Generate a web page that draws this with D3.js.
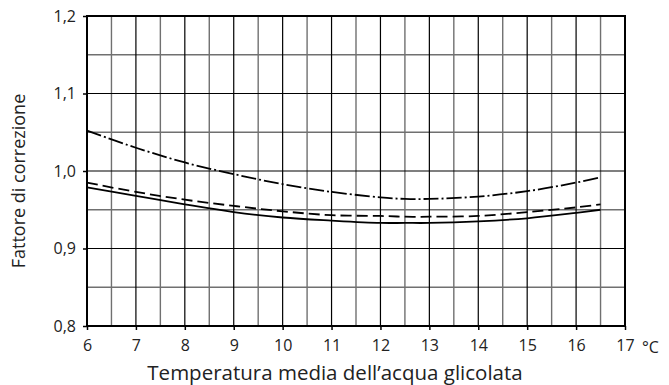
<!DOCTYPE html>
<html>
<head>
<meta charset="utf-8">
<script src="https://cdn.jsdelivr.net/npm/d3@7"></script>
<style>
  body { margin: 0; background: #fff; }
  text { font-family: "Open Sans", sans-serif; fill: #222; }
</style>
</head>
<body>
<div id="chart"></div>
<script>
// temperature (°C) and correction factor per curve
var temps      = [6, 7, 8, 9, 10, 11, 12, 12.5, 13, 14, 15, 16, 16.5];
var dashDot    = [1.052, 1.030, 1.011, 0.996, 0.983, 0.973, 0.966, 0.964, 0.964, 0.967, 0.974, 0.985, 0.992];
var dashed     = [0.985, 0.973, 0.963, 0.955, 0.948, 0.943, 0.942, 0.941, 0.941, 0.942, 0.947, 0.953, 0.957];
var solid      = [0.979, 0.968, 0.957, 0.947, 0.940, 0.936, 0.933, 0.933, 0.933, 0.935, 0.939, 0.946, 0.950];
var xTicks     = [6, 7, 8, 9, 10, 11, 12, 13, 14, 15, 16, 17];
var yTicks     = [0.8, 0.9, 1.0, 1.1, 1.2];
var xLabel     = "Temperatura media dell\u2019acqua glicolata";
var yLabel     = "Fattore di correzione";

var width = 669, height = 385;
var pLeft = 87, pRight = 625, pTop = 16, pBottom = 326;

var svg = d3.select('#chart').append('svg').attr('width', width).attr('height', height);

var x = d3.scaleLinear().domain([6, 17]).range([pLeft, pRight]);
var y = d3.scaleLinear().domain([0.8, 1.2]).range([pBottom, pTop]);

// minor grid (gray)
var halfX = d3.range(6.5, 17, 1);
var halfY = [0.85, 0.95, 1.05, 1.15];
svg.selectAll('.vminor').data(halfX).enter().append('line')
  .attr('x1', d => x(d)).attr('x2', d => x(d)).attr('y1', pTop).attr('y2', pBottom)
  .attr('stroke', '#707070').attr('stroke-width', 1.4);
svg.selectAll('.hminor').data(halfY).enter().append('line')
  .attr('x1', pLeft).attr('x2', pRight).attr('y1', d => y(d)).attr('y2', d => y(d))
  .attr('stroke', '#707070').attr('stroke-width', 1.4);

// major grid (black)
svg.selectAll('.vmajor').data(xTicks.slice(1, -1)).enter().append('line')
  .attr('x1', d => x(d)).attr('x2', d => x(d)).attr('y1', pTop).attr('y2', pBottom)
  .attr('stroke', '#000').attr('stroke-width', 1.2);
svg.selectAll('.hmajor').data(yTicks.slice(1, -1)).enter().append('line')
  .attr('x1', pLeft).attr('x2', pRight).attr('y1', d => y(d)).attr('y2', d => y(d))
  .attr('stroke', '#000').attr('stroke-width', 1.2);

// frame
svg.append('rect').attr('x', pLeft).attr('y', pTop)
  .attr('width', pRight - pLeft).attr('height', pBottom - pTop)
  .attr('fill', 'none').attr('stroke', '#000').attr('stroke-width', 2);

// axes
var xAxis = svg.append('g').attr('transform', 'translate(0,' + pBottom + ')')
  .call(d3.axisBottom(x).tickValues(xTicks).tickSize(4).tickPadding(10).tickFormat(d3.format('d')));
var yAxis = svg.append('g').attr('transform', 'translate(' + pLeft + ',0)')
  .call(d3.axisLeft(y).tickValues(yTicks).tickSize(4).tickPadding(7)
    .tickFormat(d => d3.format('.1f')(d).replace('.', ',')));
[xAxis, yAxis].forEach(function (g) {
  g.select('.domain').remove();
  g.selectAll('.tick line').attr('stroke', '#000').attr('stroke-width', 1.5);
  g.selectAll('.tick text').style('font-size', '16px').style('font-family', '"Open Sans", sans-serif').attr('fill', '#222');
});

svg.append('text').attr('x', 642).attr('y', 353)
  .style('font-size', '16px').text('\u00b0C');

// curves
var line = d3.line().x(d => x(d[0])).y(d => y(d[1])).curve(d3.curveCatmullRom);
var series = [
  { v: dashDot, dash: '15,3,2,3' },
  { v: dashed,  dash: '11,5' },
  { v: solid,   dash: null }
];
series.forEach(function (s) {
  svg.append('path')
    .datum(temps.map((t, i) => [t, s.v[i]]))
    .attr('d', line)
    .attr('fill', 'none')
    .attr('stroke', '#000')
    .attr('stroke-width', 1.8)
    .attr('stroke-dasharray', s.dash);
});

// axis titles
svg.append('text').attr('x', 335).attr('y', 380)
  .attr('text-anchor', 'middle').style('font-size', '20.5px').text(xLabel);
svg.append('text').attr('transform', 'translate(25,181) rotate(-90)')
  .attr('text-anchor', 'middle').style('font-size', '18px').text(yLabel);
</script>
</body>
</html>
